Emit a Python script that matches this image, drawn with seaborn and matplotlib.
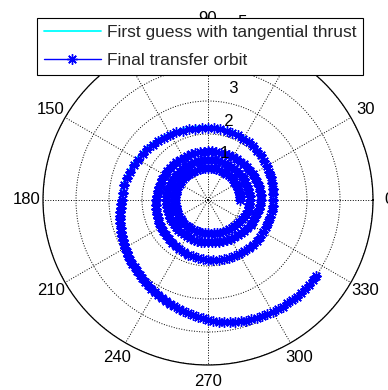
import numpy as np
import matplotlib
matplotlib.use("Agg")
import matplotlib.pyplot as plt
import seaborn as sns

# Polar angle (degrees, cumulative) and radius of the two trajectories;
# the final orbit is sampled more finely on its last, widest arc
theta_final_deg = np.concatenate([np.arange(0, 1260, 5),
                                  np.arange(1260, 1405.1, 2.5)])
r_final = [
    0.97, 0.97, 0.97, 0.97, 0.97, 0.97, 0.97, 0.97, 0.97,
    0.97, 0.97, 0.97, 0.97, 0.97, 0.97, 0.97, 0.97, 0.97,
    0.97, 0.97, 0.97, 0.97, 0.98, 0.98, 0.98, 0.98, 0.98,
    0.98, 0.98, 0.99, 0.99, 0.99, 0.99, 0.99, 1.00, 1.00,
    1.00, 1.00, 1.00, 1.00, 1.01, 1.01, 1.01, 1.01, 1.01,
    1.01, 1.01, 1.01, 1.01, 1.01, 1.01, 1.01, 1.01, 1.01,
    1.01, 1.02, 1.03, 1.04, 1.05, 1.06, 1.08, 1.09, 1.11,
    1.12, 1.14, 1.16, 1.18, 1.20, 1.22, 1.24, 1.25, 1.26,
    1.27, 1.27, 1.26, 1.26, 1.26, 1.25, 1.25, 1.25, 1.24,
    1.24, 1.24, 1.23, 1.23, 1.23, 1.22, 1.22, 1.22, 1.21,
    1.21, 1.21, 1.21, 1.21, 1.21, 1.21, 1.22, 1.22, 1.22,
    1.22, 1.22, 1.23, 1.23, 1.24, 1.24, 1.25, 1.25, 1.26,
    1.26, 1.26, 1.26, 1.26, 1.27, 1.27, 1.27, 1.27, 1.27,
    1.27, 1.27, 1.27, 1.27, 1.27, 1.28, 1.28, 1.28, 1.28,
    1.28, 1.29, 1.30, 1.32, 1.33, 1.35, 1.37, 1.38, 1.40,
    1.42, 1.44, 1.46, 1.49, 1.51, 1.53, 1.55, 1.57, 1.59,
    1.61, 1.61, 1.60, 1.59, 1.58, 1.57, 1.56, 1.55, 1.54,
    1.53, 1.52, 1.51, 1.51, 1.50, 1.49, 1.49, 1.48, 1.48,
    1.47, 1.47, 1.47, 1.47, 1.48, 1.48, 1.48, 1.49, 1.49,
    1.50, 1.51, 1.51, 1.52, 1.53, 1.53, 1.54, 1.55, 1.56,
    1.57, 1.58, 1.59, 1.60, 1.62, 1.63, 1.64, 1.65, 1.67,
    1.68, 1.70, 1.71, 1.73, 1.74, 1.76, 1.77, 1.79, 1.80,
    1.82, 1.83, 1.85, 1.86, 1.87, 1.88, 1.89, 1.90, 1.91,
    1.92, 1.93, 1.93, 1.94, 1.95, 1.95, 1.96, 1.96, 1.97,
    1.97, 1.98, 1.99, 2.01, 2.02, 2.04, 2.06, 2.08, 2.10,
    2.12, 2.13, 2.14, 2.15, 2.16, 2.16, 2.17, 2.17, 2.18,
    2.18, 2.19, 2.20, 2.22, 2.24, 2.26, 2.28, 2.31, 2.34,
    2.37, 2.40, 2.42, 2.45, 2.48, 2.51, 2.54, 2.57, 2.59,
    # last arc, 2.5 degree spacing
    2.62, 2.64, 2.66, 2.69, 2.71, 2.73, 2.75, 2.78, 2.80,
    2.82, 2.85, 2.87, 2.90, 2.92, 2.95, 2.97, 3.00, 3.02,
    3.05, 3.07, 3.10, 3.13, 3.16, 3.19, 3.22, 3.25, 3.28,
    3.31, 3.35, 3.38, 3.42, 3.45, 3.49, 3.52, 3.56, 3.59,
    3.63, 3.66, 3.70, 3.73, 3.76, 3.78, 3.81, 3.83, 3.85,
    3.87, 3.89, 3.90, 3.92, 3.93, 3.94, 3.95, 3.96, 3.97,
    3.98, 3.98, 3.99, 4.00, 4.01,
]

theta_guess_deg = np.arange(0, 1401, 10)
r_guess = [
    0.98, 0.98, 0.98, 0.98, 0.98, 0.98, 0.98, 0.98, 0.98,
    0.98, 0.98, 0.99, 0.99, 0.99, 1.00, 1.00, 1.00, 1.01,
    1.01, 1.01, 1.02, 1.02, 1.02, 1.02, 1.02, 1.02, 1.02,
    1.02, 1.04, 1.06, 1.09, 1.12, 1.15, 1.19, 1.23, 1.26,
    1.28, 1.27, 1.27, 1.26, 1.25, 1.25, 1.24, 1.24, 1.23,
    1.22, 1.22, 1.22, 1.23, 1.23, 1.23, 1.24, 1.25, 1.26,
    1.27, 1.27, 1.28, 1.28, 1.28, 1.28, 1.28, 1.29, 1.29,
    1.29, 1.31, 1.34, 1.38, 1.41, 1.45, 1.50, 1.54, 1.58,
    1.62, 1.61, 1.59, 1.57, 1.55, 1.54, 1.53, 1.51, 1.50,
    1.49, 1.49, 1.50, 1.50, 1.51, 1.53, 1.54, 1.55, 1.57,
    1.59, 1.61, 1.64, 1.66, 1.69, 1.72, 1.75, 1.78, 1.81,
    1.84, 1.87, 1.89, 1.91, 1.93, 1.95, 1.96, 1.97, 1.98,
    1.99, 2.02, 2.05, 2.09, 2.14, 2.18, 2.21, 2.22, 2.23,
    2.24, 2.26, 2.30, 2.34, 2.40, 2.46, 2.51, 2.57, 2.63,
    2.68, 2.76, 2.84, 2.93, 3.03, 3.12, 3.24, 3.37, 3.51,
    3.65, 3.77, 3.86, 3.93, 3.97, 4.00,
]

angle_ticks = [0, 30, 60, 90, 120, 150, 180, 210, 240, 270, 300, 330]
radius_ticks = [1, 2, 3, 4, 5]
series_labels = ["First guess with tangential thrust", "Final transfer orbit"]

sns.set_style("white")
plt.rcParams["font.family"] = ["Liberation Sans", "DejaVu Sans"]
plt.rcParams["font.size"] = 12

W, H = 388, 390
fig = plt.figure(figsize=(W / 100, H / 100), dpi=100)
fig.patch.set_facecolor("white")
ax = fig.add_axes([43 / W, 25 / H, 330 / W, 330 / H], projection="polar")

sns.lineplot(x=np.deg2rad(theta_guess_deg), y=r_guess, ax=ax, sort=False,
             estimator=None, color=(0, 1, 1), linewidth=1.3,
             label=series_labels[0])
sns.lineplot(x=np.deg2rad(theta_final_deg), y=r_final, ax=ax, sort=False,
             estimator=None, color=(0, 0, 1), linewidth=1.0,
             marker=(8, 2, 0), markersize=7.5, markeredgewidth=1.0,
             markeredgecolor=(0, 0, 1), label=series_labels[1])

ax.set_xlabel("")
ax.set_ylabel("")
ax.set_ylim(0, radius_ticks[-1])
ax.set_yticks(radius_ticks)
ax.set_xticks(np.deg2rad(angle_ticks))
ax.set_xticklabels([])
ax.set_yticklabels([])
ax.set_axisbelow(True)
ax.grid(True, color="k", linestyle=":", linewidth=0.7)
ax.spines["polar"].set_color("k")
ax.spines["polar"].set_linewidth(0.9)

# angle labels just outside the rim
for a in angle_ticks:
    ax.text(np.deg2rad(a), radius_ticks[-1] * 1.1, str(a), ha="center",
            va="center", clip_on=False, fontsize=12, color="k", zorder=3)

# ring labels along the 82 degree direction
for i in radius_ticks:
    ax.annotate(f"  {i}", xy=(np.deg2rad(82), i + 0.05), xytext=(-2, 12),
                textcoords="offset pixels", ha="left", va="center",
                fontsize=12, color="k", zorder=3, annotation_clip=False)

leg = ax.legend(loc="upper left", bbox_to_anchor=(37 / W, 1 - 18 / H),
                bbox_transform=fig.transFigure, borderaxespad=0,
                borderpad=0.38, labelspacing=0.75, handlelength=3.3,
                handletextpad=0.35, fancybox=False, framealpha=1,
                edgecolor="k", fontsize=12.5)
leg.get_frame().set_linewidth(0.8)
leg.set_zorder(10)

fig.savefig("out.png", dpi=100)
